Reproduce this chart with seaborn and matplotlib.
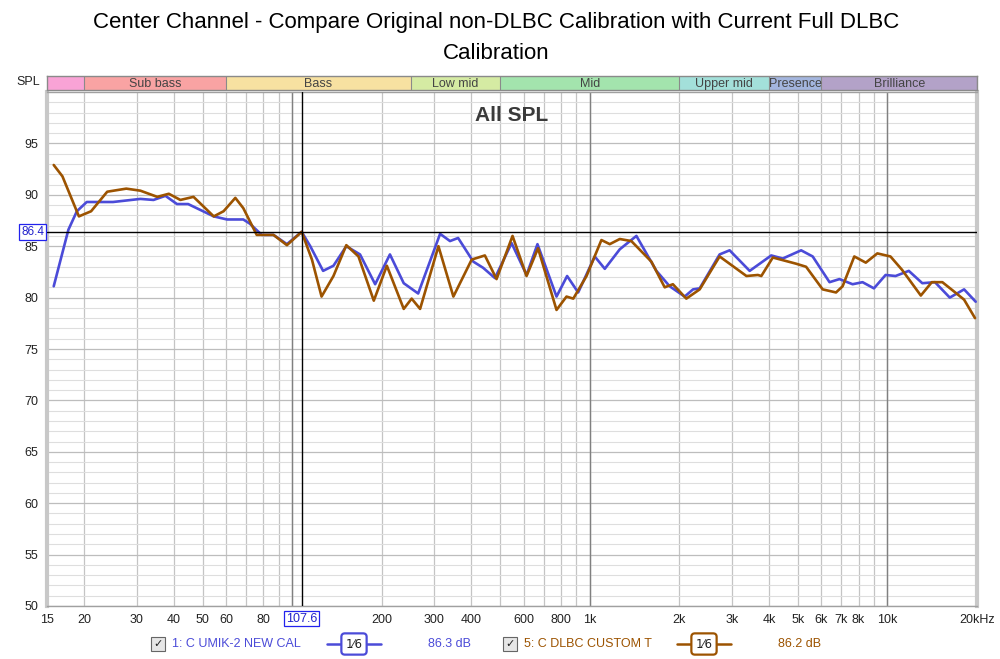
import numpy as np
import pandas as pd
import matplotlib
matplotlib.use("Agg")
import matplotlib.pyplot as plt
from matplotlib.lines import Line2D
import seaborn as sns

# ---------------- data ----------------
blue_name = "1: C UMIK-2 NEW CAL"
brown_name = "5: C DLBC CUSTOM T"

blue_f = [15.8, 17.7, 18.9, 20.4, 25, 30.9, 34.2, 37.5, 41, 44.7, 54.5, 60.4, 68.5, 72, 79,
          86.5, 96, 107.6, 115, 127, 137.6, 152, 169, 190, 213, 237, 265, 314, 339, 361,
          406, 438, 480, 546, 613, 667, 773, 839, 914, 1039, 1123, 1261, 1434, 1674, 1855,
          2083, 2223, 2340, 2730, 2950, 3445, 4070, 4450, 5130, 5610, 6390, 6900, 7640, 8250,
          9010, 9860, 10650, 11800, 13100, 14450, 16200, 18100, 19800]
blue_db = [81.1, 86.6, 88.4, 89.3, 89.3, 89.6, 89.5, 89.9, 89.1, 89.1, 87.9, 87.6, 87.6, 87.2, 86.1,
           86.1, 85.2, 86.4, 85.0, 82.6, 83.1, 85.0, 84.2, 81.3, 84.2, 81.4, 80.4, 86.2, 85.5, 85.8,
           83.5, 82.9, 81.9, 85.3, 82.2, 85.2, 80.1, 82.1, 80.5, 84.0, 82.8, 84.7, 86.0, 82.6, 81.1,
           80.1, 80.8, 80.9, 84.2, 84.6, 82.6, 84.1, 83.8, 84.6, 84.0, 81.5, 81.8, 81.3, 81.5,
           80.9, 82.2, 82.1, 82.6, 81.4, 81.5, 80.0, 80.8, 79.6]

brown_f = [15.8, 16.9, 19.2, 21.1, 23.9, 27.7, 30.9, 35.2, 38.5, 42.1, 46.6, 54.5, 58.8, 64.4, 68.5,
           76, 86.5, 96, 107.6, 116.5, 125.5, 137.6, 152, 167, 188, 208, 237, 252, 269, 310,
           348, 401, 444, 486, 550, 613, 670, 773, 835, 880, 975, 1094, 1167, 1261, 1379,
           1610, 1785, 1902, 2110, 2340, 2730, 3360, 3670, 3770, 4120, 4930, 5330, 6060, 6720, 7070,
           7740, 8460, 9250, 10240, 11200, 12950, 14100, 15300, 16900, 18100, 19700]
brown_db = [92.9, 91.8, 87.9, 88.4, 90.3, 90.6, 90.4, 89.8, 90.1, 89.5, 89.8, 87.9, 88.4, 89.7, 88.7,
            86.1, 86.1, 85.1, 86.4, 83.7, 80.1, 82.1, 85.1, 84.0, 79.7, 83.1, 78.9, 79.9, 78.9, 85.0,
            80.1, 83.7, 84.1, 81.8, 86.0, 82.1, 84.8, 78.8, 80.1, 79.9, 82.1, 85.6, 85.2, 85.7, 85.5,
            83.5, 81.0, 81.3, 79.9, 80.8, 84.0, 82.1, 82.2, 82.1, 83.9, 83.3, 83.0, 80.8, 80.5, 81.1,
            84.0, 83.4, 84.3, 84.0, 82.7, 80.2, 81.5, 81.5, 80.5, 79.8, 78.0]

band_names = ["", "Sub bass", "Bass", "Low mid", "Mid", "Upper mid", "Presence", "Brilliance"]
band_edges = [15, 20, 60, 250, 500, 2000, 4000, 6000, 20000]
band_colors = ["#f9a3d6", "#f9a3a3", "#f7e1a1", "#d5eba3", "#a3e4ad", "#a3e0da", "#a3b5de", "#b3a2c8"]

xtick_vals = [15, 20, 30, 40, 50, 60, 80, 200, 300, 400, 600, 800, 1000, 2000, 3000,
              4000, 5000, 6000, 7000, 8000, 10000, 20000]
xtick_labels = ["15", "20", "30", "40", "50", "60", "80", "200", "300", "400", "600", "800", "1k",
                "2k", "3k", "4k", "5k", "6k", "7k", "8k", "10k", "20kHz"]
ytick_vals = [50, 55, 60, 65, 70, 75, 80, 85, 90, 95]

cursor_f = 107.6
cursor_db = 86.4
blue_avg = "86.3 dB"
brown_avg = "86.2 dB"

title = "Center Channel - Compare Original non-DLBC Calibration with Current Full DLBC\nCalibration"

BLUE = "#4b4bd8"
BROWN = "#9c5300"

# ---------------- figure ----------------
sns.set_style("white")
plt.rcParams["font.family"] = ["Liberation Sans", "DejaVu Sans"]

fig = plt.figure(figsize=(10, 6.59), dpi=100)
W, H = 1000, 659
L, R, T, B = 47, 977, 92, 606
ax = fig.add_axes([L / W, 1 - B / H, (R - L) / W, (B - T) / H])

df = pd.concat([
    pd.DataFrame({"f": blue_f, "db": blue_db, "s": blue_name}),
    pd.DataFrame({"f": brown_f, "db": brown_db, "s": brown_name}),
])
sns.lineplot(data=df, x="f", y="db", hue="s", palette={blue_name: BLUE, brown_name: BROWN},
             sort=False, estimator=None, lw=1.9, ax=ax, legend=False, zorder=5)

ax.set_xscale("log")
ax.set_xlim(15, 20000)
ax.set_ylim(50, 100)
ax.set_xlabel("")
ax.set_ylabel("")

# grid lines
grid_x = []
for dec in [10, 100, 1000, 10000]:
    for m in range(1, 10):
        v = m * dec
        if 15 < v < 20000:
            grid_x.append(v)
ax.set_xticks(grid_x, minor=True)
ax.set_xticks(xtick_vals)
ax.set_xticklabels(xtick_labels)
ax.xaxis.set_minor_formatter(matplotlib.ticker.NullFormatter())
ax.set_yticks(list(range(51, 100)), minor=True)
ax.set_yticks(ytick_vals)
ax.tick_params(axis="both", which="both", length=0, labelsize=9, colors="#222222")
ax.tick_params(axis="x", pad=6)
ax.tick_params(axis="y", pad=6)
ax.grid(True, which="minor", axis="y", color="#dedede", lw=0.8)
ax.grid(True, which="major", axis="y", color="#bdbdbd", lw=0.9)
ax.grid(True, which="minor", axis="x", color="#c4c4c4", lw=0.9)
ax.grid(True, which="major", axis="x", color="#c4c4c4", lw=0.9)
for v in [100, 1000, 10000]:
    ax.axvline(v, color="#808080", lw=1.0, zorder=1)

for sp in ax.spines.values():
    sp.set_color("#a0a0a0")
    sp.set_linewidth(1.0)
ax.spines["left"].set_linewidth(3)
ax.spines["left"].set_color("#c8c8c8")
ax.spines["right"].set_linewidth(3)
ax.spines["right"].set_color("#c8c8c8")

# cursors
ax.axvline(cursor_f, color="black", lw=1.0, zorder=6)
ax.axhline(cursor_db, color="black", lw=1.0, zorder=6)
ax.text(cursor_f, -0.013, f"{cursor_f}", transform=ax.get_xaxis_transform(), ha="center", va="top",
        fontsize=9, color="#2222cc",
        bbox=dict(boxstyle="square,pad=0.12", fc="white", ec="#2222ee", lw=0.9))
ax.text(-0.003, cursor_db, f"{cursor_db}", transform=ax.get_yaxis_transform(), ha="right", va="center",
        fontsize=8.5, color="#2222cc",
        bbox=dict(boxstyle="square,pad=0.15", fc="white", ec="#2222ee", lw=0.9))

ax.text(0.5, 0.955, "All SPL", transform=ax.transAxes, ha="center", va="center",
        fontsize=15, fontweight="bold", color="#3a3a3a")

# band bar
bx = fig.add_axes([L / W, 1 - 90 / H, (R - L) / W, 14 / H])
bx.set_xscale("log")
bx.set_xlim(15, 20000)
bx.set_ylim(0, 1)
for i, name in enumerate(band_names):
    lo, hi = band_edges[i], band_edges[i + 1]
    bx.axvspan(lo, hi, color=band_colors[i], lw=0)
    bx.axvline(hi, color="#8a8a8a", lw=0.8)
    if name:
        bx.text(np.sqrt(lo * hi), 0.45, name, ha="center", va="center", fontsize=9, color="#444444")
bx.set_xticks([])
bx.set_yticks([])
bx.set_xticks([], minor=True)
for sp in bx.spines.values():
    sp.set_color("#8a8a8a")
    sp.set_linewidth(1.0)

fig.text(28 / W, 1 - 82 / H, "SPL", ha="center", va="center", fontsize=9, color="#222222")

fig.suptitle(title, x=0.496, y=1 - 12 / H, va="top", fontsize=16, linespacing=1.65, color="black")

# legend row
ly = 1 - 644 / H


def legend_item(x_cb, name, color, x_sym, avg, x_avg):
    fig.text(x_cb / W, ly, "✓", ha="center", va="center", fontsize=8, color="#222222",
             family=["DejaVu Sans"],
             bbox=dict(boxstyle="square,pad=0.2", fc="#e6e6e6", ec="#666666", lw=0.8))
    fig.text((x_cb + 14) / W, ly, name, ha="left", va="center", fontsize=9, color=color)
    fig.add_artist(Line2D([x_sym / W, (x_sym + 54) / W], [ly, ly], color=color, lw=1.8,
                          transform=fig.transFigure))
    fig.text((x_sym + 27) / W, ly, "1⁄6", ha="center", va="center", fontsize=8.5, color="#222222",
             family=["DejaVu Sans"],
             bbox=dict(boxstyle="round,pad=0.35,rounding_size=0.3", fc="white", ec=color, lw=1.6))
    fig.text(x_avg / W, ly, avg, ha="left", va="center", fontsize=9, color=color)


legend_item(158, blue_name, BLUE, 327, blue_avg, 428)
legend_item(510, brown_name, BROWN, 677, brown_avg, 778)

fig.savefig("out.png", dpi=100)
